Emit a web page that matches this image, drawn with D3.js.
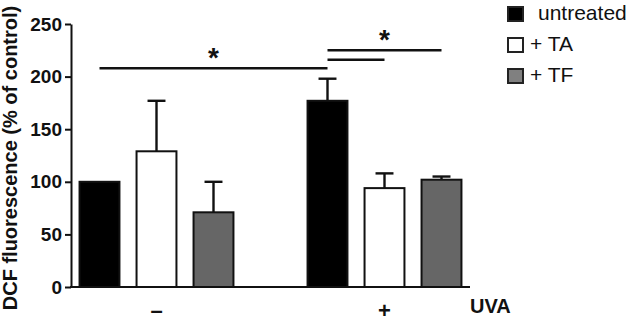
<!DOCTYPE html>
<html>
  <head>
    <meta charset="utf-8">
    <title>DCF fluorescence</title>
    <style type="text/css">
     html, body {
       margin: 0;
       background: #fff;
     }
     svg text {
       font-family: "Liberation Sans", Arial, sans-serif;
       fill: #111;
     }
     .axis path, .axis line {
       stroke: #111;
       stroke-width: 2px;
     }
     .bar {
       stroke: #111;
       stroke-width: 2px;
     }
     .err, .sig {
       stroke: #111;
       stroke-width: 2.4px;
     }
    </style>
  </head>
  <body>
    <svg width="628" height="322"></svg>
    <script src="https://cdn.jsdelivr.net/npm/d3@7"></script>
    <script>
     // UVA groups and treatments
     var groups = ["\u2013", "+"];
     var treatments = ["untreated", "+ TA", "+ TF"];
     var colors = ["#000000", "#ffffff", "#666666"];
     var legendColors = ["#000000", "#ffffff", "#808080"];

     // mean values (% of control), one row per UVA group
     var means = [[100, 129, 71], [177, 94, 102]];
     // error (upper only)
     var errs = [[0, 48, 29], [21, 14, 3]];

     var yTicks = [0, 50, 100, 150, 200, 250];

     // significance brackets: [group, treatment] from / to, height in data units
     var sigLines = [
       {from: [0, 0], to: [1, 0], level: 208, star: true},
       {from: [1, 0], to: [1, 2], level: 225, star: true},
       {from: [1, 0], to: [1, 1], level: 216, star: false}
     ];

     var svg = d3.select("svg");

     // one slot per bar plus an empty slot between the groups
     var slots = [];
     groups.forEach(function(g, gi) {
       if (gi > 0) slots.push("gap" + gi);
       treatments.forEach(function(t, ti) { slots.push(gi + "-" + ti); });
     });

     var x = d3.scaleBand()
               .domain(slots)
               .range([71, 470])
               .paddingInner(0.3)
               .paddingOuter(0.15);

     var y = d3.scaleLinear()
               .domain([0, 250])
               .range([287, 24]);

     function cx(gi, ti) {
       return x(gi + "-" + ti) + x.bandwidth() / 2;
     }

     // y axis
     var yAxis = svg.append("g")
                    .attr("class", "axis")
                    .attr("transform", "translate(71,0)")
                    .call(d3.axisLeft(y).tickValues(yTicks).tickSize(6).tickPadding(3).tickSizeOuter(0));
     yAxis.selectAll("text")
          .style("font-size", "19px")
          .style("font-weight", "bold")
          .attr("font-family", null);

     // x axis line (no ticks)
     svg.append("line")
        .attr("class", "axis")
        .attr("x1", 70).attr("x2", 470)
        .attr("y1", y(0)).attr("y2", y(0))
        .style("stroke", "#111").style("stroke-width", "2px");

     var bars = [];
     means.forEach(function(row, gi) {
       row.forEach(function(v, ti) {
         bars.push({g: gi, t: ti, v: v, e: errs[gi][ti]});
       });
     });

     // error bars (drawn first, bar covers the lower part)
     var capW = x.bandwidth() * 0.45;
     var eb = svg.append("g").selectAll("g")
                 .data(bars.filter(function(d) { return d.e > 0; }))
                 .enter().append("g");
     eb.append("line")
       .attr("class", "err")
       .attr("x1", function(d) { return cx(d.g, d.t); })
       .attr("x2", function(d) { return cx(d.g, d.t); })
       .attr("y1", function(d) { return y(d.v); })
       .attr("y2", function(d) { return y(d.v + d.e); });
     eb.append("line")
       .attr("class", "err")
       .attr("x1", function(d) { return cx(d.g, d.t) - capW / 2; })
       .attr("x2", function(d) { return cx(d.g, d.t) + capW / 2; })
       .attr("y1", function(d) { return y(d.v + d.e); })
       .attr("y2", function(d) { return y(d.v + d.e); });

     svg.append("g").selectAll("rect")
        .data(bars)
        .enter().append("rect")
        .attr("class", "bar")
        .attr("x", function(d) { return x(d.g + "-" + d.t); })
        .attr("width", x.bandwidth())
        .attr("y", function(d) { return y(d.v); })
        .attr("height", function(d) { return y(0) - y(d.v); })
        .attr("fill", function(d) { return colors[d.t]; });

     // group labels
     svg.append("g").selectAll("text")
        .data(groups)
        .enter().append("text")
        .attr("x", function(d, i) { return cx(i, 1); })
        .attr("y", 318)
        .attr("text-anchor", "middle")
        .style("font-size", "22px")
        .style("font-weight", "bold")
        .text(function(d) { return d; });

     svg.append("text")
        .attr("x", 470)
        .attr("y", 313)
        .style("font-size", "20px")
        .style("font-weight", "bold")
        .text("UVA");

     // y label
     svg.append("text")
        .attr("transform", "translate(17,158) rotate(-90)")
        .attr("text-anchor", "middle")
        .style("font-size", "20px")
        .style("font-weight", "bold")
        .text("DCF fluorescence (% of control)");

     // significance
     svg.append("g").selectAll("line")
        .data(sigLines)
        .enter().append("line")
        .attr("class", "sig")
        .attr("x1", function(d) { return cx(d.from[0], d.from[1]); })
        .attr("x2", function(d) { return cx(d.to[0], d.to[1]); })
        .attr("y1", function(d) { return y(d.level); })
        .attr("y2", function(d) { return y(d.level); });

     svg.append("g").selectAll("text")
        .data(sigLines.filter(function(d) { return d.star; }))
        .enter().append("text")
        .attr("x", function(d) { return (cx(d.from[0], d.from[1]) + cx(d.to[0], d.to[1])) / 2; })
        .attr("y", function(d) { return y(d.level) - 1; })
        .attr("text-anchor", "middle")
        .style("font-size", "28px")
        .style("font-weight", "bold")
        .text("*");

     // legend
     var lg = svg.append("g").selectAll("g")
                 .data(treatments)
                 .enter().append("g")
                 .attr("transform", function(d, i) { return "translate(508," + (7 + i * 31) + ")"; });
     lg.append("rect")
       .attr("width", 15)
       .attr("height", 14)
       .attr("fill", function(d, i) { return legendColors[i]; })
       .style("stroke", "#222")
       .style("stroke-width", "2px");
     lg.append("text")
       .attr("x", function(d, i) { return i == 0 ? 30 : 22; })
       .attr("y", 13)
       .style("font-size", "21px")
       .text(function(d) { return d; });
    </script>
  </body>
</html>
